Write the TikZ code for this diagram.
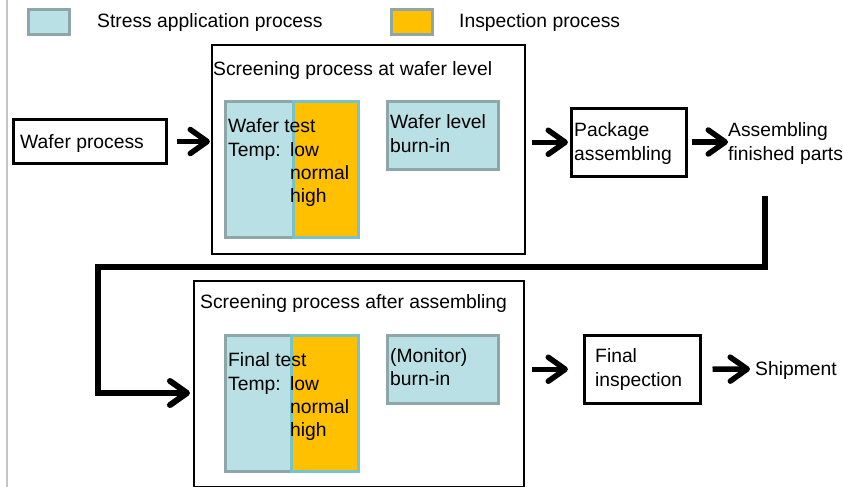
\documentclass[tikz,border=0pt]{standalone}
\usepackage{fontspec}
\setmainfont{Liberation Sans}
\usetikzlibrary{arrows.meta}
\definecolor{stressfill}{RGB}{185,224,228}
\definecolor{stressline}{RGB}{143,166,168}
\definecolor{inspfill}{RGB}{255,192,0}
\definecolor{inspline}{RGB}{120,195,203}
\begin{document}
\begin{tikzpicture}[x=1pt,y=-1pt,
  blk/.style={draw=black, line width=2pt, anchor=north west, inner sep=0pt, fill=white},
  stress/.style={draw=stressline, fill=stressfill, line width=2.5pt, anchor=north west, inner sep=0pt},
  insp/.style={draw=inspline, fill=inspfill, line width=2.5pt, anchor=north west, inner sep=0pt},
  legsq/.style={draw=stressline, line width=3pt, anchor=north west, inner sep=0pt, minimum width=41pt, minimum height=25pt},
  txt/.style={font=\fontsize{19.3}{23}\selectfont, anchor=base west, inner sep=0pt},
  tiphead/.style={-{Straight Barb[length=17pt,width=24pt,round]}},
  bigarrow/.style={line width=5.5pt, tiphead}
]
\useasboundingbox (0,0) rectangle (843,487);
\draw[gray!45, line width=1.2pt] (7,0) -- (7,487);

% legend
\node[legsq, fill=stressfill] (lg1) at (27,8) {};
\node[txt] (lg1t) at (97,28) {Stress application process};
\node[legsq, fill=inspfill] (lg2) at (390,8) {};
\node[txt] (lg2t) at (459,28) {Inspection process};

% wafer process
\node[blk, line width=3pt, minimum width=153pt, minimum height=44pt] (wp) at (12,118) {};
\node[txt] (wpt) at (20,148) {Wafer process};

% screening at wafer level
\node[blk, minimum width=313pt, minimum height=209pt] (box1) at (211,44) {};
\node[txt] (box1t) at (213,75) {Screening process at wafer level};
\node[stress, minimum width=68pt, minimum height=136pt] (wt1) at (224,100) {};
\node[insp, minimum width=65pt, minimum height=136pt] (wt2) at (292,100) {};
\node[txt] (wtt1) at (228,132) {Wafer test};
\node[txt] (wtt2) at (228,156) {Temp:};
\node[txt] (wtt3) at (290,156) {low};
\node[txt] (wtt4) at (290,179) {normal};
\node[txt] (wtt5) at (290,202) {high};
\node[stress, minimum width=111pt, minimum height=68pt] (wb) at (386,100) {};
\node[txt] (wbt1) at (390,128) {Wafer level};
\node[txt] (wbt2) at (390,152) {burn-in};

% package
\node[blk, line width=2.5pt, minimum width=115pt, minimum height=68pt] (pkg) at (570,107) {};
\node[txt] (pkgt1) at (574,136) {Package};
\node[txt] (pkgt2) at (574,160) {assembling};
\node[txt] (afp1) at (728,136) {Assembling};
\node[txt] (afp2) at (728,160) {finished parts};
\coordinate (afp) at (728,142);

% screening after assembling
\node[blk, minimum width=330pt, minimum height=206pt] (box2) at (193,280) {};
\node[txt] (box2t) at (200,308) {Screening process after assembling};
\node[stress, minimum width=66pt, minimum height=136pt] (ft1) at (224,334) {};
\node[insp, minimum width=67pt, minimum height=136pt] (ft2) at (290,334) {};
\node[txt] (ftt1) at (228,366) {Final test};
\node[txt] (ftt2) at (228,390) {Temp:};
\node[txt] (ftt3) at (290,390) {low};
\node[txt] (ftt4) at (290,413) {normal};
\node[txt] (ftt5) at (290,436) {high};
\node[stress, minimum width=111pt, minimum height=68pt] (mb) at (386,334) {};
\node[txt] (mbt1) at (390,362) {(Monitor)};
\node[txt] (mbt2) at (390,385) {burn-in};

% final inspection
\node[blk, line width=2.5pt, minimum width=116pt, minimum height=68pt] (fi) at (583,334) {};
\node[txt] (fit1) at (595,362) {Final};
\node[txt] (fit2) at (595,386) {inspection};
\node[txt] (ship) at (755,375) {Shipment};
\coordinate (shp) at (750,369);

% arrows
\draw[bigarrow] ([xshift=9pt]wp.east) -- ([xshift=-1pt]box1.west |- wp.east);
\draw[bigarrow] ([xshift=6pt]box1.east |- pkg.west) -- ([xshift=-2pt]pkg.west);
\draw[bigarrow] ([xshift=4pt]pkg.east |- afp) -- (afp);
\coordinate (c0) at (765,196);
\coordinate (c1) at (765,267);
\coordinate (c2) at (98,267);
\coordinate (c3) at (98,393);
\draw[line width=6pt, tiphead] (c0) -- (c1) -- (c2) -- (c3) -- ([xshift=-3pt]box2.west |- c3);
\draw[bigarrow] ([xshift=7pt]box2.east |- fi.west) -- ([xshift=-15pt]fi.west);
\draw[bigarrow] ([xshift=11pt]fi.east) -- (shp);
\end{tikzpicture}
\end{document}
